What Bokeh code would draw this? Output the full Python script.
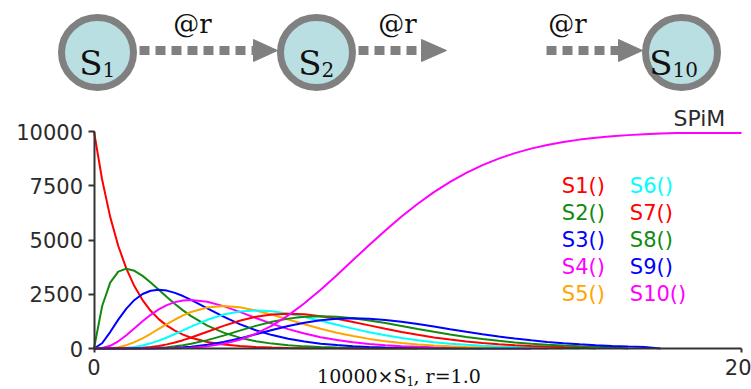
import numpy as np
from bokeh.plotting import figure
from bokeh.models import Range1d, FixedTicker
from bokeh.embed import file_html
from bokeh.resources import INLINE
from bokeh.core.properties import value

# ---- simulation output: time points and molecule counts per species ----
time = [0, 0.25, 0.5, 0.75, 1, 1.25, 1.5, 1.75, 2, 2.25, 2.5, 2.75, 3,
        3.5, 4, 4.5, 5, 5.5, 6, 6.5, 7, 7.5, 8, 8.5, 9, 9.5, 10, 10.5,
        11, 11.5, 12, 12.5, 13, 13.5, 14, 14.5, 15, 15.5, 16, 16.5, 17,
        17.5, 18, 18.5, 19, 19.5, 20]

s1 = [10000, 7788, 6065, 4724, 3679, 2865, 2231, 1738, 1353, 1054, 821, 639, 498,
      302, 183, 111, 67, 41, 25, 15, 9, 6, 3, 2, 1, 1, 0]
s2 = [0, 1947, 3033, 3543, 3679, 3581, 3347, 3041, 2707, 2371, 2052, 1758, 1494,
      1057, 733, 500, 337, 225, 149, 98, 64, 41, 27, 17, 11, 7, 5, 3, 2, 1, 0]
s3 = [0, 243, 758, 1329, 1839, 2238, 2510, 2661, 2707, 2668, 2565, 2417, 2240,
      1850, 1465, 1125, 842, 618, 446, 318, 223, 156, 107, 74, 50, 34, 23, 15,
      10, 7, 4, 3, 2, 0]
s4 = [0, 20, 126, 332, 613, 933, 1255, 1552, 1804, 2001, 2138, 2216, 2240,
      2158, 1954, 1687, 1404, 1133, 892, 688, 521, 389, 286, 208, 150, 107, 76,
      53, 37, 26, 18, 12, 8, 6, 0]
s5 = [0, 1, 16, 62, 153, 292, 471, 679, 902, 1126, 1336, 1523, 1680,
      1888, 1954, 1898, 1755, 1558, 1339, 1118, 912, 729, 573, 443, 337, 254,
      189, 139, 102, 74, 53, 38, 27, 19, 13, 0]
s6 = [0, 0, 2, 9, 31, 73, 141, 238, 361, 507, 668, 838, 1008,
      1322, 1563, 1708, 1755, 1714, 1606, 1453, 1277, 1094, 916, 752, 607, 483,
      378, 293, 224, 170, 127, 95, 70, 51, 37, 27, 0]
s7 = [0, 0, 0, 1, 5, 15, 35, 69, 120, 190, 278, 384, 504,
      771, 1042, 1281, 1462, 1571, 1606, 1575, 1490, 1367, 1221, 1066, 911, 765,
      631, 512, 411, 325, 255, 198, 152, 115, 87, 65, 48, 0]
s8 = [0, 0, 0, 0, 1, 3, 8, 17, 34, 61, 99, 151, 216,
      386, 595, 824, 1044, 1235, 1377, 1462, 1490, 1465, 1396, 1294, 1171, 1037,
      901, 768, 645, 535, 437, 353, 282, 222, 174, 135, 104, 79, 60, 0]
s9 = [0, 0, 0, 0, 0, 0, 1, 4, 9, 17, 31, 52, 81,
      169, 298, 463, 653, 849, 1033, 1188, 1304, 1373, 1396, 1375, 1318, 1232,
      1126, 1009, 887, 769, 655, 551, 457, 375, 305, 245, 194, 154, 120, 93, 72, 0]
s10 = [0, 0, 0, 0, 0, 0, 0, 1, 2, 6, 11, 22, 38,
       98, 213, 403, 681, 1058, 1527, 2084, 2709, 3380, 4075, 4769, 5443, 6079,
       6672, 7207, 7682, 8094, 8450, 8751, 9002, 9210, 9379, 9516, 9626, 9712,
       9780, 9833, 9874, 9905, 9929, 9929, 9929, 9929, 9929]

series = [s1, s2, s3, s4, s5, s6, s7, s8, s9, s10]
species = ["S1", "S2", "S3", "S4", "S5", "S6", "S7", "S8", "S9", "S10"]
colors = ["#ff0000", "#118a11", "#0000ff", "#ff00ff", "#ffa500",
          "#00ffff", "#ff0000", "#118a11", "#0000ff", "#ff00ff"]

y_ticks = [0, 2500, 5000, 7500, 10000]
x_ticks = [0, 20]

SERIF = "DejaVu Serif"
SANS = "DejaVu Sans"

W, H = 751, 389
# page geometry of the plotting area: where t=0 / t=20 and 0 / 10000 sit
LEFT, RIGHT, TOP, BOTTOM = 93.5, 741.0, 131.0, 348.0
XS = (RIGHT - LEFT) / 20.0
YS = (BOTTOM - TOP) / 10000.0


def fx(px):
    """page pixel column -> time coordinate"""
    return (px - LEFT) / XS


def fy(py):
    """page pixel row -> count coordinate"""
    return (BOTTOM - py) / YS


p = figure(width=W, height=H, x_range=Range1d(fx(0), fx(W)), y_range=Range1d(fy(H), fy(0)),
           toolbar_location=None, output_backend="svg", min_border=0,
           outline_line_color=None)
p.grid.visible = False

# ---- reaction diagram: S1 -> S2 -> ... -> S10 ----
node_x = [97, 316, 681]
node_sub = ["1", "2", "10"]
node_y = 52
arrow_y = 50
shaft_x0 = [139, 358, 546]
shaft_x1 = [253, 421, 618]
head_tip = [277, 446, 642]

p.segment(x0=[fx(v) for v in shaft_x0], y0=[fy(arrow_y)] * 3,
          x1=[fx(v) for v in shaft_x1], y1=[fy(arrow_y)] * 3,
          line_color="#808080", line_width=9, line_dash="10 6", line_cap="butt")
p.patches(xs=[[fx(b), fx(b), fx(t)] for b, t in zip(shaft_x1, head_tip)],
          ys=[[fy(arrow_y - 11), fy(arrow_y + 11), fy(arrow_y)]] * 3,
          fill_color="#808080", line_color="#808080")
p.text(x=[fx(v) for v in (192, 397, 567)], y=[fy(23)] * 3, text=["@r"] * 3,
       text_font=value(SERIF), text_font_size="26px", text_color="#111111",
       text_align="center", text_baseline="middle")

p.ellipse(x=[fx(v) for v in node_x], y=[fy(node_y)] * 3, width=72, height=70,
          width_units="screen", height_units="screen",
          fill_color="#b9dfe2", line_color="#808080", line_width=7)
s_x = [fx(node_x[0] + 5), fx(node_x[1] + 5), fx(node_x[2] - 9)]
p.text(x=s_x, y=[fy(62)] * 3, text=["S"] * 3, text_font=value(SERIF),
       text_font_size="34px", text_color="#111111",
       text_align="right", text_baseline="alphabetic")
p.text(x=s_x, y=[fy(69)] * 3, text=node_sub, text_font=value(SERIF),
       text_font_size="20px", text_color="#111111",
       text_align="left", text_baseline="alphabetic")

# ---- time course curves ----
t = np.array(time, dtype=float)
for vals, col in zip(series, colors):
    padded = np.array(vals + [None] * (len(time) - len(vals)), dtype=float)
    p.line(t, padded, line_color=col, line_width=2)

# axes pinned to the origin of the data
p.xaxis.fixed_location = 0
p.yaxis.fixed_location = 0
p.xaxis.bounds = (0, 20)
p.yaxis.bounds = (0, 10000)
for ax in (p.xaxis, p.yaxis):
    ax.axis_line_color = "#333333"
    ax.axis_line_width = 2
    ax.major_tick_line_color = "#333333"
    ax.major_tick_line_width = 2
    ax.major_tick_in = 0
    ax.minor_tick_line_color = None
    ax.major_label_text_font = SANS
    ax.major_label_text_font_size = "21px"
    ax.major_label_text_color = "#2b2b2b"

p.yaxis.ticker = FixedTicker(ticks=y_ticks)
p.yaxis.major_tick_out = 6
p.yaxis.major_label_standoff = 5
p.xaxis.ticker = FixedTicker(ticks=x_ticks)
p.xaxis.major_tick_out = 4
p.xaxis.major_label_standoff = 6

# legend written as coloured labels in two columns
leg_x = [14.45] * 5 + [16.55] * 5
leg_y = [7500, 6250, 5000, 3750, 2500] * 2
p.text(x=leg_x, y=leg_y, text=[s + "()" for s in species], text_color=colors,
       text_font=value(SANS), text_font_size="21px",
       text_align="left", text_baseline="middle")

p.text(x=[fx(673)], y=[fy(117.5)], text=["SPiM"], text_font=value(SANS),
       text_font_size="22px", text_color="#2b2b2b",
       text_align="left", text_baseline="middle")

# x-axis caption with a subscript
cap_x, cap_y = fx(406), fy(375)
p.text(x=[cap_x], y=[cap_y], text=["10000×S"], text_font=value(SERIF),
       text_font_size="19px", text_color="#111111",
       text_align="right", text_baseline="middle")
p.text(x=[cap_x], y=[cap_y], y_offset=5, text=["1"], text_font=value(SERIF),
       text_font_size="12px", text_color="#111111",
       text_align="left", text_baseline="middle")
p.text(x=[cap_x], y=[cap_y], x_offset=7, text=[", r=1.0"], text_font=value(SERIF),
       text_font_size="19px", text_color="#111111",
       text_align="left", text_baseline="middle")

open("out.html", "w").write(file_html(p, INLINE))
